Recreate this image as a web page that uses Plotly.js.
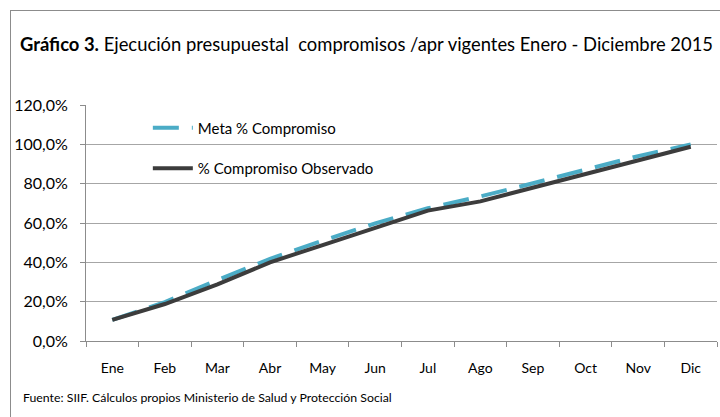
<!DOCTYPE html>
<html>
<head>
<meta charset="utf-8">
<script src="https://cdn.plot.ly/plotly-3.0.1.min.js"></script>
<style>
  html, body { margin: 0; padding: 0; background: #ffffff; }
  #wrap { position: relative; width: 720px; height: 417px; overflow: hidden; }
  #frame { position: absolute; left: 10px; top: 10px; width: 800px; height: 500px;
           border-left: 1px solid #8c8c8c; border-top: 1px solid #8c8c8c; }
  #chart { position: absolute; left: 0; top: 0; width: 720px; height: 417px; }
</style>
</head>
<body>
<div id="wrap">
  <div id="frame"></div>
  <div id="chart"></div>
</div>
<script>
const months = ["Ene", "Feb", "Mar", "Abr", "May", "Jun", "Jul", "Ago", "Sep", "Oct", "Nov", "Dic"];
const metaCompromiso = [10.7, 19.8, 31.0, 41.8, 51.0, 59.8, 67.5, 73.5, 80.2, 87.0, 94.0, 100.0];
const compromisoObservado = [10.7, 18.8, 28.8, 40.0, 48.8, 57.3, 66.3, 71.0, 78.0, 84.5, 91.5, 98.8];
const seriesNames = ["Meta % Compromiso", "% Compromiso Observado"];
const yTicks = [0, 20, 40, 60, 80, 100, 120];
const yTickLabels = ["0,0%", "20,0%", "40,0%", "60,0%", "80,0%", "100,0%", "120,0%"];

const FONT = "Lato, 'Open Sans', sans-serif";

const traces = [
  {
    type: "scatter", mode: "lines", x: months, y: metaCompromiso, name: seriesNames[0],
    legendgroup: "a",
    line: { color: "#4bacc6", width: 4, dash: "26px,13px" },
    hoverinfo: "skip"
  },
  {
    type: "scatter", mode: "lines", x: months, y: compromisoObservado, name: seriesNames[1],
    legendgroup: "b",
    line: { color: "#3c3c3c", width: 4 },
    hoverinfo: "skip"
  }
];

const layout = {
  width: 720, height: 417,
  margin: { l: 86, r: 3, t: 105, b: 76 },
  paper_bgcolor: "rgba(0,0,0,0)",
  plot_bgcolor: "rgba(0,0,0,0)",
  separators: ",.",
  font: { family: FONT, size: 14, color: "#000000" },
  title: {
    text: "<b>Gráfico 3.</b> Ejecución presupuestal  compromisos /apr vigentes Enero - Diciembre 2015",
    font: { family: FONT, size: 18.4, color: "#000000" },
    x: 20 / 720, xanchor: "left", xref: "container",
    y: 1 - 45 / 417, yanchor: "middle", yref: "container"
  },
  xaxis: {
    type: "category",
    tickson: "boundaries",
    ticks: "outside", ticklen: 5, tickcolor: "#8c8c8c",
    ticklabelstandoff: 14,
    showline: true, linecolor: "#8c8c8c", linewidth: 1,
    showgrid: false,
    tickfont: { family: FONT, size: 14 },
    range: [-0.5, 11.5],
    fixedrange: true
  },
  yaxis: {
    range: [0, 120],
    tickmode: "array",
    tickvals: yTicks,
    ticktext: yTickLabels,
    ticks: "outside", ticklen: 5, tickcolor: "#8c8c8c",
    ticklabelstandoff: 9,
    showline: true, linecolor: "#8c8c8c", linewidth: 1,
    showgrid: true, gridcolor: "#a6a6a6", gridwidth: 1,
    zeroline: false,
    tickfont: { family: FONT, size: 16 },
    fixedrange: true
  },
  showlegend: true,
  legend: {
    x: 0.098, xanchor: "left",
    y: 0.972, yanchor: "top",
    bgcolor: "rgba(0,0,0,0)",
    traceorder: "grouped",
    tracegroupgap: 18,
    font: { family: FONT, size: 15 },
    itemwidth: 40
  },
  annotations: [
    {
      text: "Fuente: SIIF. Cálculos propios Ministerio de Salud y Protección Social",
      xref: "paper", yref: "paper",
      x: (21 - 86) / 631, y: (341 - 397) / 236,
      xanchor: "left", yanchor: "middle",
      showarrow: false,
      font: { family: FONT, size: 12.3, color: "#000000" }
    }
  ]
};

Plotly.newPlot("chart", traces, layout, { displayModeBar: false, staticPlot: true });
</script>
</body>
</html>
